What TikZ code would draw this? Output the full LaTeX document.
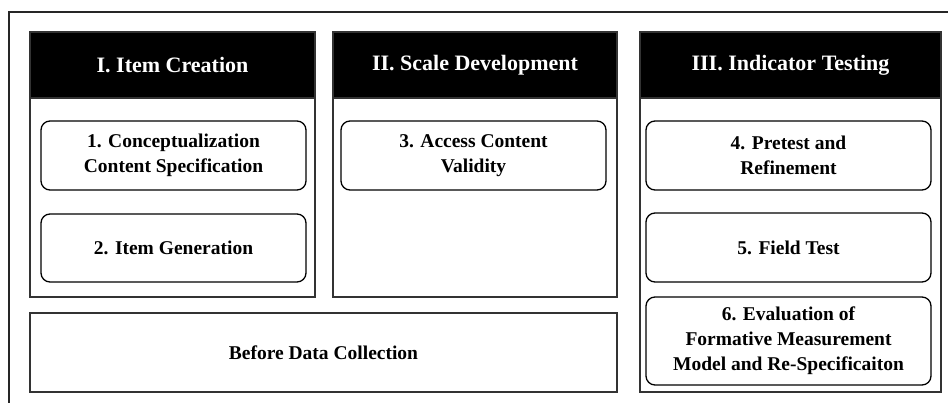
\documentclass[tikz,border=0pt]{standalone}
\usepackage{fontspec}
\setmainfont{Liberation Serif}
\begin{document}
\begin{tikzpicture}[x=1pt,y=-1pt,
  frame/.style={draw=black!85, line width=1.3pt},
  panel/.style={draw=black!80, line width=1.2pt, inner sep=0pt},
  header/.style={fill=black, draw=black!80, line width=1.2pt, text=white,
    font=\fontsize{22}{26}\selectfont\bfseries, inner sep=0pt},
  stepbox/.style={draw=black, line width=1.3pt, rounded corners=9pt, align=center,
    inner sep=0pt, font=\fontsize{19.5}{25}\selectfont\bfseries},
  phasebox/.style={draw=black!80, line width=1.2pt, inner sep=0pt,
    font=\fontsize{19.5}{25}\selectfont\bfseries}]
\useasboundingbox (0,0) rectangle (948,403);
\clip (0,0) rectangle (948,403);
\fill[white] (0,0) rectangle (948,403);

% outer frame, running past the right and lower edges
\draw[frame] (9,12) rectangle (980,440);

% phase panels
\node[panel, minimum width=285pt, minimum height=265pt] (p1) at (172.5,164.5) {};
\node[panel, minimum width=284pt, minimum height=265pt] (p2) at (475,164.5) {};
\node[panel, minimum width=301pt, minimum height=360pt] (p3) at (790.5,212) {};

% black headers
\node[header, minimum width=285pt, minimum height=66pt] (h1) at (172.5,65) {I. Item Creation};
\node[header, minimum width=284pt, minimum height=66pt] (h2) at (475,65) {II. Scale Development};
\node[header, minimum width=301pt, minimum height=66pt] (h3) at (790.5,65) {III. Indicator Testing};

% steps
\node[stepbox, minimum width=265pt, minimum height=69pt] (s1) at (173.5,155.5)
  {1. Conceptualization\\Content Specification};
\node[stepbox, minimum width=265pt, minimum height=68pt] (s2) at (173.5,248)
  {2. Item Generation};
\node[stepbox, minimum width=265pt, minimum height=69pt] (s3) at (473.5,155.5)
  {3. Access Content\\Validity};
\node[stepbox, minimum width=285pt, minimum height=69pt] (s4) at (788.5,155.5)
  {4. Pretest and\\Refinement};
\node[stepbox, minimum width=285pt, minimum height=69pt] (s5) at (788.5,247.5)
  {5. Field Test};
\node[stepbox, minimum width=285pt, minimum height=88pt] (s6) at (788.5,341)
  {6. Evaluation of\\Formative Measurement\\Model and Re-Specificaiton};

% lower band under panels I and II
\node[phasebox, minimum width=587pt, minimum height=79pt] (bdc) at (323.5,352.5)
  {Before Data Collection};
\end{tikzpicture}
\end{document}
